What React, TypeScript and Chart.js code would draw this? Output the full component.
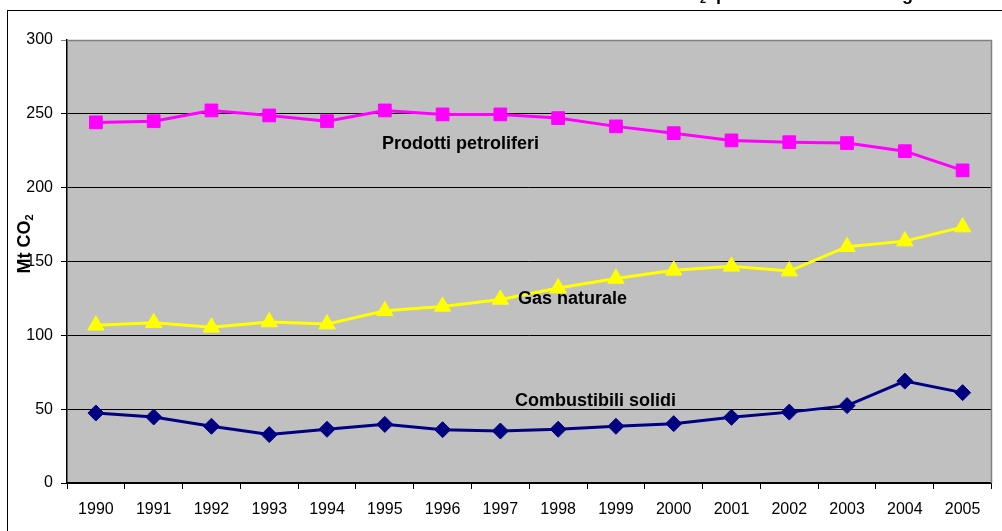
import React, { useEffect, useRef } from "react";
import { Chart, registerables } from "chart.js";

Chart.register(...registerables);

const YEARS = ["1990", "1991", "1992", "1993", "1994", "1995", "1996", "1997", "1998", "1999", "2000", "2001", "2002", "2003", "2004", "2005"];
const PETROLIFERI = [244.2, 245, 252.3, 248.9, 245, 252.3, 249.6, 249.6, 247.1, 241.5, 236.9, 232, 230.8, 230.2, 224.7, 211.7];
const GAS = [106.8, 108.5, 105.4, 109, 107.6, 116.6, 119.6, 124.3, 132, 138.5, 144, 146.7, 143.5, 160, 163.8, 173.3];
const SOLIDI = [47.4, 44.7, 38.4, 32.8, 36.4, 39.7, 36.1, 35.2, 36.4, 38.4, 40.2, 44.5, 48, 52.4, 69, 61.2];
const Y_TICKS = [0, 50, 100, 150, 200, 250, 300];

const SERIES_NAMES = ["Prodotti petroliferi", "Gas naturale", "Combustibili solidi"];
const Y_TITLE_MAIN = "Mt CO";
const Y_TITLE_SUB = "2";
const TITLE_LEFT = "Emissioni di CO";
const TITLE_SUB = "2";
const TITLE_RIGHT = "per combustibile in Liguria";

const FONT = "'Liberation Sans', Arial, Helvetica, sans-serif";

const decorPlugin = {
  id: "decor",
  beforeDraw(chart: any) {
    const { ctx, chartArea } = chart;
    ctx.save();
    ctx.fillStyle = "#ffffff";
    ctx.fillRect(0, 0, chart.width, chart.height);
    // outer frame
    ctx.strokeStyle = "#000000";
    ctx.lineWidth = 1;
    ctx.strokeRect(7.5, 10.5, 1200, 1000);
    // title (cropped, only descenders visible)
    ctx.fillStyle = "#000000";
    ctx.textBaseline = "alphabetic";
    ctx.font = `bold 18px ${FONT}`;
    ctx.textAlign = "left";
    ctx.fillText(TITLE_RIGHT, 716, 0);
    ctx.font = `bold 11px ${FONT}`;
    ctx.fillText(TITLE_SUB, 700, 3);
    ctx.font = `bold 18px ${FONT}`;
    ctx.textAlign = "right";
    ctx.fillText(TITLE_LEFT, 699, 0);
    // plot background
    ctx.fillStyle = "#c0c0c0";
    ctx.fillRect(chartArea.left, chartArea.top, chartArea.right - chartArea.left, chartArea.bottom - chartArea.top);
    ctx.restore();
  },
  beforeDatasetsDraw(chart: any) {
    const { ctx, chartArea } = chart;
    ctx.save();
    ctx.strokeStyle = "#808080";
    ctx.lineWidth = 1.5;
    ctx.beginPath();
    ctx.moveTo(chartArea.left, chartArea.top + 0.5);
    ctx.lineTo(chartArea.right, chartArea.top + 0.5);
    ctx.lineTo(chartArea.right, chartArea.bottom);
    ctx.stroke();
    ctx.restore();
  },
  afterDatasetsDraw(chart: any) {
    const { ctx } = chart;
    ctx.save();
    ctx.fillStyle = "#000000";
    ctx.font = `bold 18px ${FONT}`;
    ctx.textAlign = "left";
    ctx.textBaseline = "alphabetic";
    ctx.fillText(SERIES_NAMES[0], 382, 149);
    ctx.fillText(SERIES_NAMES[1], 518, 304);
    ctx.fillText(SERIES_NAMES[2], 515, 406);
    // y axis title
    ctx.translate(24, 244);
    ctx.rotate(-Math.PI / 2);
    ctx.font = `bold 18px ${FONT}`;
    const w1 = ctx.measureText(Y_TITLE_MAIN).width;
    ctx.font = `bold 11px ${FONT}`;
    const w2 = ctx.measureText(Y_TITLE_SUB).width;
    const start = -(w1 + w2) / 2;
    ctx.font = `bold 18px ${FONT}`;
    ctx.fillText(Y_TITLE_MAIN, start, 6);
    ctx.font = `bold 11px ${FONT}`;
    ctx.fillText(Y_TITLE_SUB, start + w1, 9);
    ctx.restore();
  },
};

export default function App() {
  const ref = useRef<HTMLCanvasElement | null>(null);
  useEffect(() => {
    if (!ref.current) return;
    const chart = new Chart(ref.current, {
      type: "line",
      data: {
        labels: YEARS,
        datasets: [
          {
            label: SERIES_NAMES[0],
            data: PETROLIFERI,
            borderColor: "#ff00ff",
            backgroundColor: "#ff00ff",
            pointBackgroundColor: "#ff00ff",
            pointBorderColor: "#ff00ff",
            borderWidth: 3,
            pointStyle: "rect",
            pointRadius: 9,
            pointBorderWidth: 1,
          },
          {
            label: SERIES_NAMES[1],
            data: GAS,
            borderColor: "#ffff00",
            backgroundColor: "#ffff00",
            pointBackgroundColor: "#ffff00",
            pointBorderColor: "#ffff00",
            borderWidth: 3,
            pointStyle: "triangle",
            pointRadius: 9.5,
            pointBorderWidth: 1,
          },
          {
            label: SERIES_NAMES[2],
            data: SOLIDI,
            borderColor: "#000080",
            backgroundColor: "#000080",
            pointBackgroundColor: "#000080",
            pointBorderColor: "#000080",
            borderWidth: 3,
            pointStyle: "rectRot",
            pointRadius: 8,
            pointBorderWidth: 1,
          },
        ],
      },
      options: {
        animation: false,
        responsive: false,
        devicePixelRatio: 1,
        layout: { padding: { left: 0, right: 3, top: 40, bottom: 0 } },
        plugins: {
          legend: { display: false },
          tooltip: { enabled: false },
          title: { display: false },
        },
        scales: {
          x: {
            offset: true,
            grid: { offset: true, drawOnChartArea: false, drawTicks: true, tickLength: 6, color: "#000000" },
            border: { color: "#000000", width: 1.5 },
            ticks: { color: "#000000", font: { family: FONT, size: 16 }, padding: 11, maxRotation: 0, autoSkip: false },
            afterFit: (s: any) => {
              s.height = 48;
            },
          },
          y: {
            min: 0,
            max: 300,
            afterBuildTicks: (s: any) => {
              s.ticks = Y_TICKS.map((v) => ({ value: v }));
            },
            grid: {
              color: (c: any) => (c.tick && c.tick.value === 300 ? "#808080" : "#000000"),
              tickLength: 6,
              drawTicks: true,
            },
            border: { color: "#000000", width: 1.5 },
            ticks: { color: "#000000", font: { family: FONT, size: 16 }, padding: 8 },
            afterFit: (s: any) => {
              s.width = 67;
            },
          },
        },
      },
      plugins: [decorPlugin],
    });
    return () => chart.destroy();
  }, []);
  return (
    <div style={{ position: "absolute", left: 0, top: 0, width: 1002, height: 531, background: "#fff" }}>
      <canvas ref={ref} width={1002} height={531} style={{ display: "block" }} />
    </div>
  );
}
